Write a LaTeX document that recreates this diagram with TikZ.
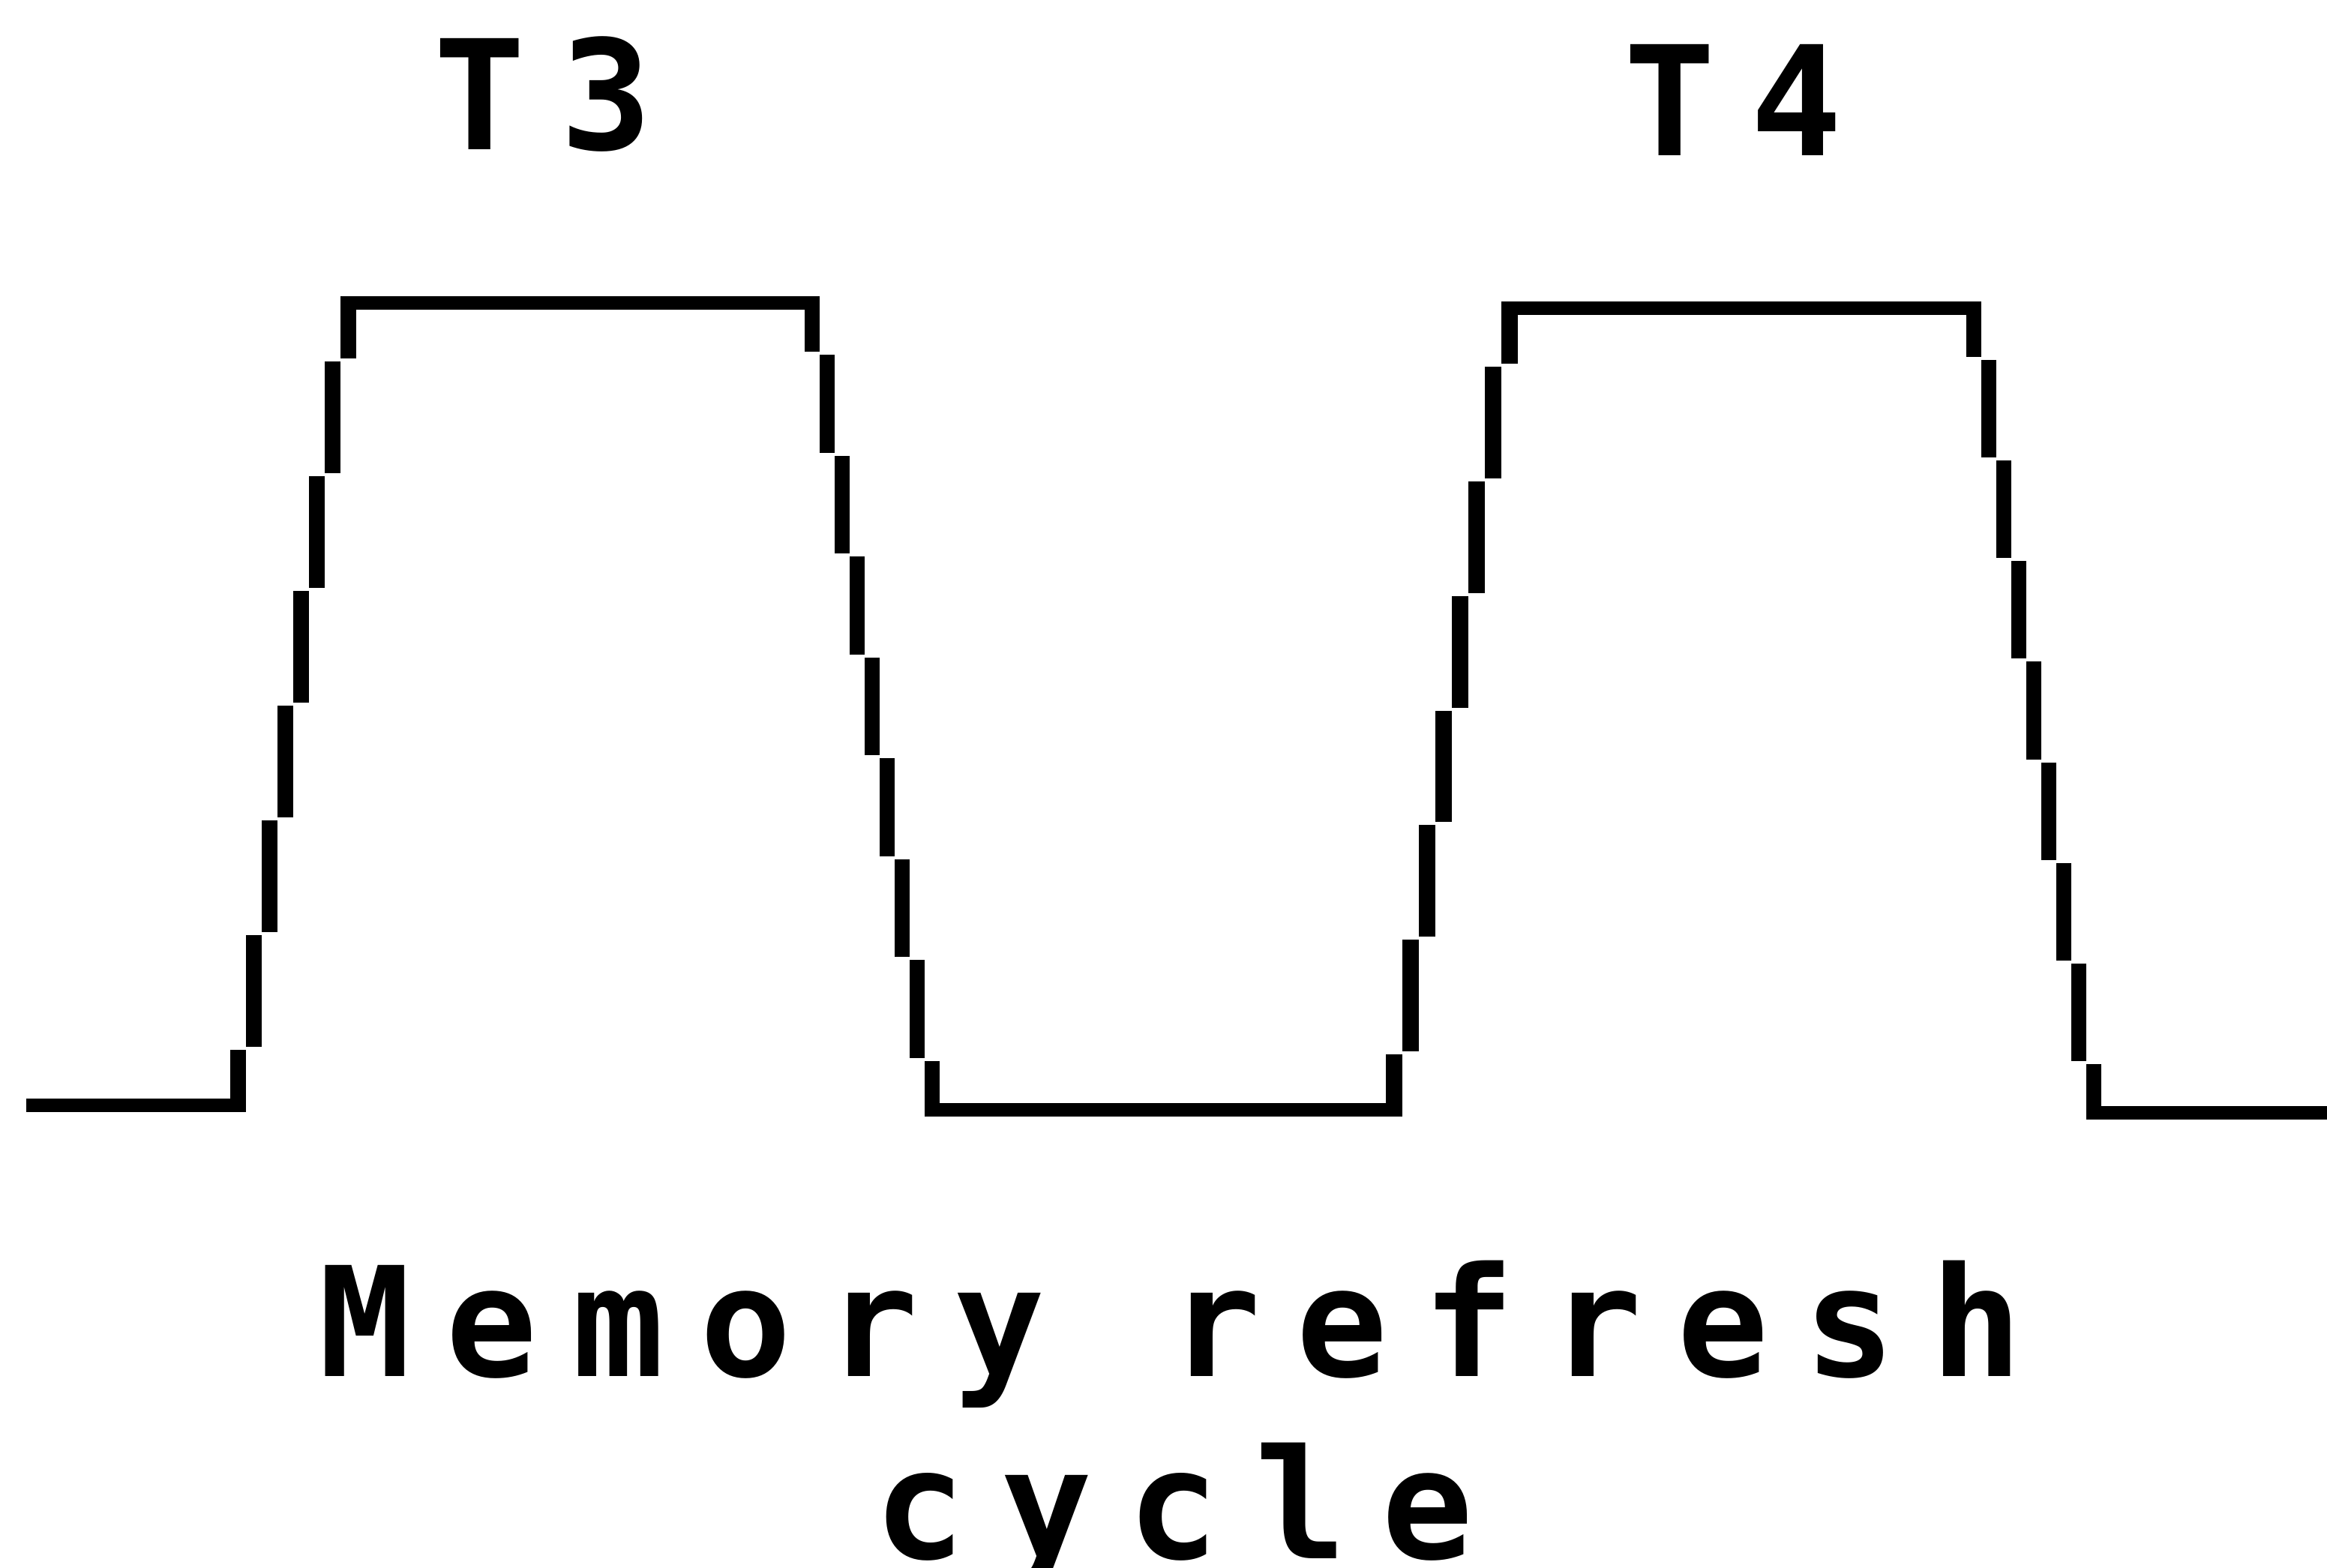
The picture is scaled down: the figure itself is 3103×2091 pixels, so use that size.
\documentclass[tikz,border=0pt]{standalone}
\usepackage{fontspec}
\newfontfamily\dotfont[LetterSpace=23]{DejaVu Sans Mono}
\newlength\cellspace
\setlength\cellspace{1.66cm}
\usetikzlibrary{positioning}

\begin{document}
\begin{tikzpicture}[
    x=0.01cm, y=-0.01cm,
    wave/.style={line width=0.18cm},
    stair/.style={fill=black},
    lbl/.style={inner sep=0pt, font=\dotfont\bfseries\fontsize{57.8}{69}\selectfont},
]
    \fill[white] (0,0) rectangle (3103,2091);
    \useasboundingbox (0,0) rectangle (3103,2091);

    % stepped edges: start x / bar width / start level / end level / steps
    \foreach \xa/\w/\ys/\ye/\n in {307/21/1474/404/7, 1073/20/404/1480/8, 1848/22/1480/411/7, 2622/20/411/1484/8}{
        \pgfmathsetmacro\d{(\ye-\ys)/\n}
        \pgfmathsetmacro\s{sign(\d)}
        \foreach \i in {0,...,\n}{
            \pgfmathsetmacro\yi{\ys+\i*(\d)}
            \pgfmathsetmacro\ya{\i==0 ? \yi-9*(\s) : \yi-0.5*(\d)+2*(\s)}
            \pgfmathsetmacro\yb{\i==\n ? \yi+9*(\s) : \yi+0.5*(\d)-2*(\s)}
            \fill[stair] ({\xa+\i*\w},\ya) rectangle ({\xa+(\i+1)*\w},\yb);
        }
    }

    \draw[wave] (35,1474) -- (328,1474);
    \draw[wave] (455,404) -- (1093,404);
    \draw[wave] (1233,1480) -- (1870,1480);
    \draw[wave] (2002,411) -- (2642,411);
    \draw[wave] (2782,1484) -- (3103,1484);

    \node[lbl, anchor=base west] (t3) at (578,200) {T3};
    \node[lbl, anchor=base west] (t4) at (2165,208) {T4};
    \node[lbl, anchor=base west] (title) at (425,1835) {\spaceskip=\cellspace Memory refresh};
    \node[lbl, anchor=base west] (cycle) at (1165,2078) {cycle};
\end{tikzpicture}
\end{document}
